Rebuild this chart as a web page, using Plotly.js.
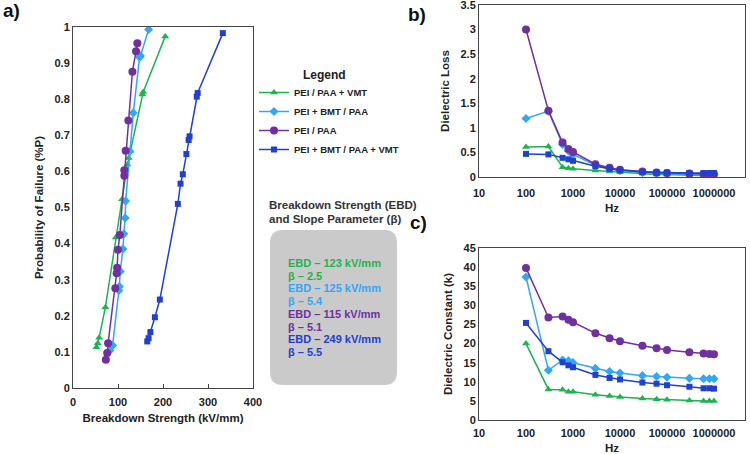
<!DOCTYPE html>
<html>
<head>
<meta charset="utf-8">
<script src="https://cdn.plot.ly/plotly-3.0.1.min.js"></script>
<style>html,body{margin:0;padding:0;background:#fff;}#chart{width:750px;height:454px;}</style>
</head>
<body>
<div id="chart"></div>
<script>
// ---- Series names and colours ----
const seriesNames = ['PEI / PAA + VMT', 'PEI + BMT / PAA', 'PEI / PAA', 'PEI + BMT / PAA + VMT'];
const seriesColors = ['#1db350', '#33a6f5', '#7030a0', '#2040d0'];
const seriesSymbols = ['triangle-up', 'diamond', 'circle', 'square'];

// ---- Panel a: Weibull breakdown (kV/mm vs probability of failure) ----
const ebdX_PAA_VMT = [52, 55, 58, 72, 95, 109, 121, 124, 128, 154, 156, 205];
const ebdP_PAA_VMT = [0.113, 0.124, 0.139, 0.224, 0.417, 0.523, 0.619, 0.637, 0.657, 0.813, 0.82, 0.974];
const ebdX_BMT_PAA = [82, 88, 102, 103, 105, 111, 113, 116, 117, 126, 134, 148, 150, 168];
const ebdP_BMT_PAA = [0.104, 0.118, 0.27, 0.281, 0.323, 0.385, 0.427, 0.471, 0.518, 0.655, 0.762, 0.916, 0.92, 0.993];
const ebdX_PAA = [73, 76, 78, 94, 97, 98, 100, 104, 114, 114, 117, 123, 132, 140, 143];
const ebdP_PAA = [0.078, 0.097, 0.124, 0.276, 0.318, 0.333, 0.383, 0.424, 0.588, 0.603, 0.657, 0.741, 0.876, 0.933, 0.955];
const ebdX_BMT_PAA_VMT = [165, 168, 172, 182, 193, 233, 239, 244, 252, 257, 259, 275, 277, 333];
const ebdP_BMT_PAA_VMT = [0.129, 0.138, 0.155, 0.196, 0.245, 0.51, 0.566, 0.592, 0.648, 0.687, 0.697, 0.807, 0.817, 0.983];

// ---- Panels b, c: frequency sweep ----
const freqHz = [100, 300, 600, 800, 1000, 3000, 6000, 10000, 30000, 60000, 100000, 300000, 600000, 800000, 1000000];
const freqTickVals = [10, 100, 1000, 10000, 100000, 1000000];
const freqTickText = ['10', '100', '1000', '10000', '100000', '1000000'];

const loss_PAA_VMT     = [0.61, 0.62, 0.20, 0.18, 0.17, 0.13, 0.11, 0.10, 0.07, 0.05, 0.05, 0.03, 0.02, 0.02, 0.02];
const loss_BMT_PAA     = [1.19, 1.34, 0.66, 0.53, 0.46, 0.24, 0.17, 0.13, 0.09, 0.07, 0.06, 0.05, 0.04, 0.04, 0.04];
const loss_PAA         = [3.00, 1.35, 0.70, 0.57, 0.51, 0.26, 0.19, 0.15, 0.11, 0.09, 0.08, 0.07, 0.06, 0.06, 0.06];
const loss_BMT_PAA_VMT = [0.47, 0.46, 0.39, 0.36, 0.33, 0.22, 0.17, 0.14, 0.10, 0.09, 0.09, 0.08, 0.08, 0.08, 0.08];

const k_PAA_VMT     = [20.0, 8.0, 7.9, 7.4, 7.4, 6.6, 6.3, 6.0, 5.6, 5.4, 5.3, 5.1, 5.0, 5.0, 5.0];
const k_BMT_PAA     = [37.4, 13.0, 15.7, 15.5, 15.0, 13.5, 12.7, 12.3, 11.6, 11.4, 11.2, 10.9, 10.8, 10.8, 10.8];
const k_PAA         = [39.8, 26.8, 27.1, 26.2, 25.6, 22.7, 21.4, 20.6, 19.4, 18.8, 18.3, 17.7, 17.4, 17.3, 17.2];
const k_BMT_PAA_VMT = [25.4, 18.0, 15.1, 14.3, 13.8, 11.8, 11.0, 10.6, 9.8, 9.5, 9.1, 8.7, 8.3, 8.3, 8.2];

// ---- Text box ----
const boxHeading = ['Breakdown Strength (EBD)', 'and Slope Parameter (β)'];
const ebdValues = [123, 125, 115, 249];
const betaValues = ['2.5', '5.4', '5.1', '5.5'];

// ---- Build ----
const W = 750, H = 454;
const px = x => x / W;
const py = y => 1 - y / H;
const FONT = 'Liberation Sans, Arial, sans-serif';
const markerSizes = [7, 7, 8, 6];

const ebdXs = [ebdX_PAA_VMT, ebdX_BMT_PAA, ebdX_PAA, ebdX_BMT_PAA_VMT];
const ebdPs = [ebdP_PAA_VMT, ebdP_BMT_PAA, ebdP_PAA, ebdP_BMT_PAA_VMT];
const lossSets = [loss_PAA_VMT, loss_BMT_PAA, loss_PAA, loss_BMT_PAA_VMT];
const kSets = [k_PAA_VMT, k_BMT_PAA, k_PAA, k_BMT_PAA_VMT];

const traces = [];
for (let i = 0; i < 4; i++) {
  traces.push({
    type: 'scatter', mode: 'lines+markers', name: seriesNames[i], showlegend: true,
    x: ebdXs[i], y: ebdPs[i], xaxis: 'x', yaxis: 'y',
    line: {color: seriesColors[i], width: 1.5},
    marker: {color: seriesColors[i], symbol: seriesSymbols[i], size: markerSizes[i]}
  });
}
for (let i = 0; i < 4; i++) {
  traces.push({
    type: 'scatter', mode: 'lines+markers', name: seriesNames[i], showlegend: false,
    x: freqHz, y: lossSets[i], xaxis: 'x2', yaxis: 'y2',
    line: {color: seriesColors[i], width: 1.5},
    marker: {color: seriesColors[i], symbol: seriesSymbols[i], size: markerSizes[i]}
  });
}
for (let i = 0; i < 4; i++) {
  traces.push({
    type: 'scatter', mode: 'lines+markers', name: seriesNames[i], showlegend: false,
    x: freqHz, y: kSets[i], xaxis: 'x3', yaxis: 'y3',
    line: {color: seriesColors[i], width: 1.5},
    marker: {color: seriesColors[i], symbol: seriesSymbols[i], size: markerSizes[i]}
  });
}

const tickFont = {family: FONT, size: 11, color: '#222', weight: 'bold'};
const titleFont = {family: FONT, size: 11.5, color: '#222', weight: 'bold'};
const axBase = {
  showgrid: false, zeroline: false, showline: true, linecolor: '#444', linewidth: 1,
  mirror: true, tickfont: tickFont, fixedrange: true, ticklabeloverflow: 'allow'
};
const ax = (extra) => Object.assign({}, axBase, extra);

const annotations = [
  {text: 'a)', x: px(1), y: py(11), xref: 'paper', yref: 'paper', xanchor: 'left', yanchor: 'middle', showarrow: false, font: {family: FONT, size: 19, color: '#111', weight: 'bold'}},
  {text: 'b)', x: px(406), y: py(14), xref: 'paper', yref: 'paper', xanchor: 'left', yanchor: 'middle', showarrow: false, font: {family: FONT, size: 19, color: '#111', weight: 'bold'}},
  {text: 'c)', x: px(408), y: py(222), xref: 'paper', yref: 'paper', xanchor: 'left', yanchor: 'middle', showarrow: false, font: {family: FONT, size: 19, color: '#111', weight: 'bold'}},
  {text: 'Legend', x: px(324), y: py(75), xref: 'paper', yref: 'paper', xanchor: 'center', yanchor: 'middle', showarrow: false, font: {family: FONT, size: 12, color: '#222', weight: 'bold'}},
  {text: boxHeading[0], x: px(267), y: py(205), xref: 'paper', yref: 'paper', xanchor: 'left', yanchor: 'middle', showarrow: false, font: {family: FONT, size: 11.5, color: '#333', weight: 'bold'}},
  {text: boxHeading[1], x: px(267), y: py(219), xref: 'paper', yref: 'paper', xanchor: 'left', yanchor: 'middle', showarrow: false, font: {family: FONT, size: 11.5, color: '#333', weight: 'bold'}}
];
for (let i = 0; i < 4; i++) {
  const y0 = 263 + i * 25.4;
  annotations.push({text: 'EBD – ' + ebdValues[i] + ' kV/mm', x: px(286), y: py(y0), xref: 'paper', yref: 'paper', xanchor: 'left', yanchor: 'middle', showarrow: false, font: {family: FONT, size: 11, color: seriesColors[i], weight: 'bold'}});
  annotations.push({text: 'β – ' + betaValues[i], x: px(286), y: py(y0 + 12.7), xref: 'paper', yref: 'paper', xanchor: 'left', yanchor: 'middle', showarrow: false, font: {family: FONT, size: 11, color: seriesColors[i], weight: 'bold'}});
}

// rounded rectangle for the text box
const bx0 = 270, bx1 = 397, by0 = 230, by1 = 385, r = 13;
const boxPath = [
  'M', px(bx0 + r), py(by0),
  'L', px(bx1 - r), py(by0),
  'Q', px(bx1), py(by0), px(bx1), py(by0 + r),
  'L', px(bx1), py(by1 - r),
  'Q', px(bx1), py(by1), px(bx1 - r), py(by1),
  'L', px(bx0 + r), py(by1),
  'Q', px(bx0), py(by1), px(bx0), py(by1 - r),
  'L', px(bx0), py(by0 + r),
  'Q', px(bx0), py(by0), px(bx0 + r), py(by0), 'Z'
].join(' ');

const layout = {
  width: W, height: H,
  margin: {l: 0, r: 0, t: 0, b: 0},
  paper_bgcolor: '#fff', plot_bgcolor: '#fff',
  font: {family: FONT, color: '#222'},
  showlegend: true,
  legend: {
    x: px(254), y: py(78), xanchor: 'left', yanchor: 'top',
    font: {family: FONT, size: 9.5, color: '#222', weight: 'bold'},
    itemwidth: 30, bgcolor: 'rgba(0,0,0,0)', tracegroupgap: 0
  },
  xaxis: ax({domain: [px(73), px(253)], anchor: 'y', range: [0, 400], dtick: 100, ticks: 'inside', ticklen: 4, tickcolor: '#444',
    ticklabelstandoff: 4, title: {text: 'Breakdown Strength (kV/mm)', font: titleFont, standoff: 6}}),
  yaxis: ax({domain: [py(388), py(27)], anchor: 'x', range: [0, 1], dtick: 0.1, ticks: '',
    title: {text: 'Probability of Failure (%P)', font: titleFont, standoff: 8}}),
  xaxis2: ax({domain: [px(479), px(745)], anchor: 'y2', type: 'log', range: [1, 6.66], tickvals: freqTickVals, ticktext: freqTickText, ticks: '',
    ticklabelstandoff: 6, title: {text: 'Hz', font: titleFont, standoff: 5}}),
  yaxis2: ax({domain: [py(177), py(5)], anchor: 'x2', range: [0, 3.5], dtick: 0.5, ticks: '',
    title: {text: 'Dielectric Loss', font: titleFont, standoff: 8}}),
  xaxis3: ax({domain: [px(479), px(745)], anchor: 'y3', type: 'log', range: [1, 6.66], tickvals: freqTickVals, ticktext: freqTickText, ticks: '',
    ticklabelstandoff: 3, title: {text: 'Hz', font: titleFont, standoff: 8}}),
  yaxis3: ax({domain: [py(420), py(248)], anchor: 'x3', range: [0, 45], dtick: 5, ticks: '',
    title: {text: 'Dielectric Constant (k)', font: titleFont, standoff: 8}}),
  shapes: [{type: 'path', path: boxPath, xref: 'paper', yref: 'paper', fillcolor: '#cacaca', line: {width: 0}, layer: 'below'}],
  annotations: annotations
};

Plotly.newPlot('chart', traces, layout, {displayModeBar: false, staticPlot: true});
</script>
</body>
</html>
